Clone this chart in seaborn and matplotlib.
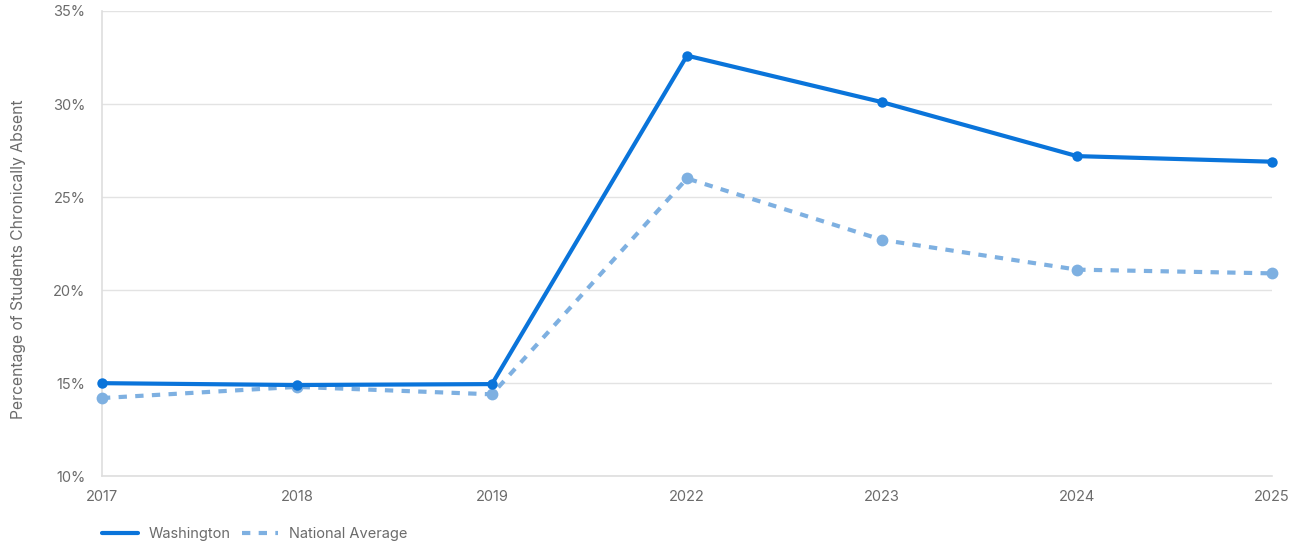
import matplotlib
matplotlib.use("Agg")
import matplotlib.pyplot as plt
import seaborn as sns
import pandas as pd
from matplotlib.ticker import FuncFormatter
from matplotlib.lines import Line2D

years = ["2017", "2018", "2019", "2022", "2023", "2024", "2025"]
washington = [15.0, 14.9, 14.95, 32.6, 30.1, 27.2, 26.9]
national = [14.2, 14.8, 14.4, 26.0, 22.7, 21.1, 20.9]
y_ticks = [10, 15, 20, 25, 30, 35]

sns.set_theme(style="white")
plt.rcParams["font.family"] = ["Inter", "DejaVu Sans"]

wa_color = "#0a74da"
na_color = "#7eb0e1"
text_color = "#6b6b6b"

df = pd.DataFrame({"pos": range(len(years)), "year": years,
                   "Washington": washington, "National Average": national})

fig = plt.figure(figsize=(13.02, 5.48), dpi=100)
ax = fig.add_axes([0.0783, 0.131, 0.8987, 0.849])

sns.lineplot(data=df, x="pos", y="Washington", ax=ax, color=wa_color,
             linewidth=3, marker="o", markersize=7.5, markeredgewidth=0,
             clip_on=False, zorder=4)
sns.lineplot(data=df, x="pos", y="National Average", ax=ax, color=na_color,
             linewidth=3, marker="o", markersize=8.5, markeredgewidth=0,
             linestyle=(0, (2, 2)), clip_on=False, zorder=3)

ax.set_xlim(0, len(years) - 1)
ax.set_ylim(10, 35)
ax.set_xticks(range(len(years)))
ax.set_xticklabels(years)
ax.set_yticks(y_ticks)
ax.yaxis.set_major_formatter(FuncFormatter(lambda v, p: f"{int(v)}%"))
ax.grid(axis="y", color="#e3e3e3", linewidth=1)
ax.set_axisbelow(True)
for s in ["top", "right"]:
    ax.spines[s].set_visible(False)
for s in ["left", "bottom"]:
    ax.spines[s].set_color("#dedede")
    ax.spines[s].set_linewidth(1.2)
ax.tick_params(axis="both", length=0, labelsize=10.5, labelcolor=text_color)
ax.tick_params(axis="x", pad=10)
ax.tick_params(axis="y", pad=12)
ax.set_xlabel("")
ax.set_ylabel("Percentage of Students Chronically Absent", fontsize=11.3,
              color=text_color)
ax.yaxis.set_label_coords(-0.065, 0.467)

handles = [Line2D([], [], color=wa_color, linewidth=3),
           Line2D([], [], color=na_color, linewidth=3, linestyle=(0, (2, 2)))]
leg = fig.legend(handles, ["Washington", "National Average"], loc="lower left",
                 bbox_to_anchor=(0.0685, -0.012), ncol=2, frameon=False,
                 fontsize=10.5, handlelength=2.45, columnspacing=0.75,
                 handletextpad=0.75)
for t in leg.get_texts():
    t.set_color(text_color)

fig.savefig("out.png", dpi=100)
